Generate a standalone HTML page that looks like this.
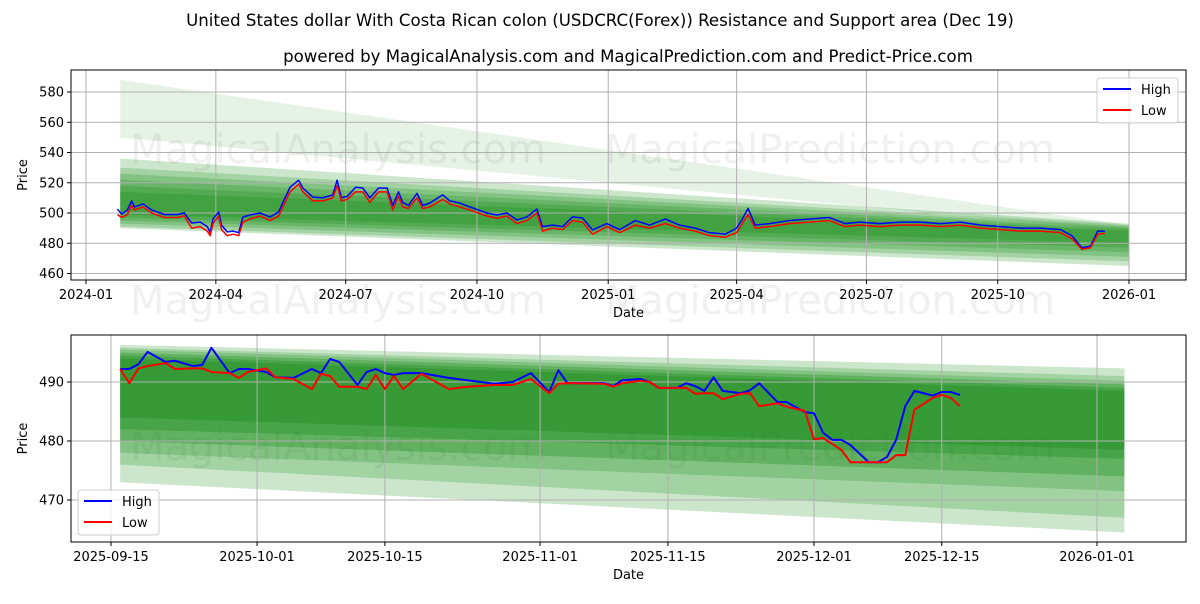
<!DOCTYPE html>
<html><head><meta charset="utf-8"><style>
body{margin:0;background:#fff;font-family:"DejaVu Sans","Liberation Sans",sans-serif}
svg text{font-family:"DejaVu Sans","Liberation Sans",sans-serif}
</style></head><body>
<svg id="fig" width="1200" height="600" xmlns="http://www.w3.org/2000/svg">
<text x="600" y="26" font-size="16.6" text-anchor="middle">United States dollar With Costa Rican colon (USDCRC(Forex)) Resistance and Support area (Dec 19)</text>
<text x="628" y="62" font-size="16.6" text-anchor="middle">powered by MagicalAnalysis.com and MagicalPrediction.com and Predict-Price.com</text>
<g id="top"></g>
<g id="bot"></g>
</svg>
<script>
// ---- top chart data (days since 2024-01-01) ----
const topDays=[22,25,29,32,34,40,46,55,64,69,74,80,85,87,89,93,95,99,103,107,110,115,122,129,135,138,143,149,152,159,166,173,176,179,183,189,194,199,205,211,215,219,222,226,232,236,241,250,255,262,269,281,288,295,302,309,316,320,327,334,341,348,355,365,374,385,395,406,416,427,437,448,456,460,464,469,479,493,507,521,532,542,556,571,585,599,613,627,641,655,669,683,691,698,704,709,714];
const topHigh=[502.6,499.3,502,508,504,506,502,499,499,500,493.4,494,491,487,496,500.7,492,487.5,488,487,497.4,498.7,500,497.4,500.7,507,517,521.7,516.5,510.5,510,512,521.7,510,511,517,516.5,510,516.5,516.5,505,514,507,505,513,505,506.6,512,508,506.6,504,500,498.7,500,495.4,497.4,502.6,491,492,491,497.4,496.7,488.8,493,489,495,492,496,492,490,487,486,490,496,503,492,493,495,496,497,493,494,493,494,494,493,494,492,491,490,490,489,485,477,478,488,488];
const topLow=[499,497,499,505,502,504,500,497,497,498,490,491,488,485,493,498,489,485,486,485,494,496,498,495,498,504,514,519,514,508,508,510,518,508,509,514,514,507,514,514,502,511,504,503,510,503,504,509,506,504,502,498,496.5,498,493,495,500,488,490,489,495,494,486,491,487,492,490,493,490,488,485,484,487,493,499,490,491,493,494,495,491,492,491,492,492,491,492,490,489,488,488,487,483,476,477,486,486.5];
const topYTicks=[460,480,500,520,540,560,580];
const topXTickLabels=["2024-01","2024-04","2024-07","2024-10","2025-01","2025-04","2025-07","2025-10","2026-01"];
const topXTickDays=[0,91,182,274,366,456,547,639,731];
const topBands=[[588,550,492,488],[536,490,493,465],[530,491,492,468],[526,493,491,471],[522,495,490,474],[518,497,489,477],[514,499,488,480]];
const topBandAlpha=[0.1,0.2,0.2,0.2,0.2,0.2,0.2];

// ---- bottom chart data (days since 2025-09-15) ----
const botDays=[1,2,3,4,6,7,9,10,11,13,14,15,17,18,20,22,23,24,25,27,28,29,30,31,32,34,37,39,42,44,46,48,49,50,54,55,56,58,59,60,62,63,64,65,66,67,69,70,71,73,74,76,77,78,79,80,81,83,84,85,86,87,88,90,91,92,93];
const botHigh=[492.2,492.2,493,495.1,493.4,493.6,492.7,492.9,495.8,491.5,492.2,492.2,491.7,490.8,490.7,492.2,491.5,493.9,493.4,489.5,491.7,492.2,491.5,491.2,491.5,491.5,490.7,490.3,489.7,490,491.5,488.3,492,489.8,489.8,489.3,490.3,490.5,490,489,489,489.8,489.3,488.5,490.8,488.5,488.1,488.6,489.8,486.6,486.6,484.9,484.7,481.4,480.2,480.2,479.3,476.4,476.4,477.3,480.2,485.9,488.5,487.7,488.3,488.3,487.8];
const botLow=[492.2,489.8,492.3,492.7,493.2,492.2,492.3,492.3,491.7,491.5,490.7,491.7,492.3,490.8,490.5,488.8,491.4,491,489.2,489.2,488.8,491.2,488.8,491,488.8,491.4,488.8,489.2,489.5,489.5,490.5,488.1,489.7,489.8,489.7,489.2,489.8,490.2,490,489,489,489,488,488.1,488.1,487.1,488,488.1,485.9,486.4,485.8,485.1,480.3,480.5,479.5,478.5,476.4,476.4,476.4,476.4,477.6,477.6,485.3,487.3,487.8,487.3,485.9];
const botYTicks=[470,480,490];
const botXTickLabels=["2025-09-15","2025-10-01","2025-10-15","2025-11-01","2025-11-15","2025-12-01","2025-12-15","2026-01-01"];
const botXTickDays=[0,16,30,47,61,77,91,108];
const botBands=[[496.3,473,492.3,464.5],[495.8,476,491,467],[495.5,478,490.2,471.5],[495,480,489.6,474],[494.5,482,489,477],[494,484,488.5,478.5]];
const botBandAlpha=[0.2,0.2,0.2,0.25,0.25,0.25];

const NS="http://www.w3.org/2000/svg";
function mk(p,t,a){const e=document.createElementNS(NS,t);for(const k in a)e.setAttribute(k,a[k]);p.appendChild(e);return e;}

function draw(g,o){
  const X=d=>o.x0+(d-o.d0)*(o.x1-o.x0)/(o.d1-o.d0);
  const Y=v=>o.y0+(v-o.v0)*(o.y1-o.y0)/(o.v1-o.v0);
  o.wm.forEach(w=>{const t=mk(g,'text',{x:w[0],y:w[1],'font-size':40,fill:'#000','fill-opacity':0.06});t.textContent=w[2];
    });
  o.bands.forEach((b,i)=>{
    const p=mk(g,'polygon',{points:`${X(o.bs)},${Y(b[0])} ${X(o.be)},${Y(b[2])} ${X(o.be)},${Y(b[3])} ${X(o.bs)},${Y(b[1])}`,fill:'rgb(0,128,0)','fill-opacity':o.alpha[i]});
    
    
  });
  o.xt.forEach((d,i)=>{
    const x=X(d);
    const l=mk(g,'line',{x1:x,x2:x,y1:o.top,y2:o.bottom,stroke:'#b0b0b0','stroke-width':1});
    
    mk(g,'line',{x1:x,x2:x,y1:o.bottom,y2:o.bottom+4,stroke:'#000'});
    const t=mk(g,'text',{x:x,y:o.bottom+19,'font-size':13,'text-anchor':'middle'});t.textContent=o.xl[i];
    
  });
  o.yt.forEach(v=>{
    const y=Y(v);
    const l=mk(g,'line',{x1:o.left,x2:o.right,y1:y,y2:y,stroke:'#b0b0b0','stroke-width':1});
    
    mk(g,'line',{x1:o.left-4,x2:o.left,y1:y,y2:y,stroke:'#000'});
    const t=mk(g,'text',{x:o.left-7,y:y+4.5,'font-size':13,'text-anchor':'end'});t.textContent=v;
    
  });
  const pl=(days,vals,c,n)=>{const p=mk(g,'polyline',{points:days.map((d,i)=>X(d)+','+Y(vals[i])).join(' '),fill:'none',stroke:c,'stroke-width':o.sw,'stroke-linejoin':'round'});
    };
  pl(o.days,o.high,'#0000ff','high-line');
  pl(o.days,o.low,'#ff0000','low-line');
  const r=mk(g,'rect',{x:o.left,y:o.top,width:o.right-o.left,height:o.bottom-o.top,fill:'none',stroke:'#000','stroke-width':1});
  
  const xt=mk(g,'text',{x:(o.left+o.right)/2,y:o.bottom+37,'font-size':13,'text-anchor':'middle'});xt.textContent='Date';
  
  const cy=(o.top+o.bottom)/2;
  const yt=mk(g,'text',{x:27,y:cy,'font-size':13,'text-anchor':'middle',transform:`rotate(-90 27 ${cy})`});yt.textContent='Price';
  
  const lg=mk(g,'g',{});
  
  mk(lg,'rect',{x:o.lx,y:o.ly,width:81,height:45,rx:3,fill:'#fff','fill-opacity':0.8,stroke:'#ccc'});
  [['High','#0000ff'],['Low','#ff0000']].forEach((e,i)=>{
    const yy=o.ly+11+i*21;
    mk(lg,'line',{x1:o.lx+6,x2:o.lx+34,y1:yy,y2:yy,stroke:e[1],'stroke-width':2});
    const t=mk(lg,'text',{x:o.lx+44,y:yy+5,'font-size':13});t.textContent=e[0];
    
  });
}
draw(document.getElementById('top'),{x0:86,x1:1129,d0:0,d1:731,y0:213,y1:92,v0:500,v1:580,
  left:71,right:1186,top:70,bottom:280,days:topDays,high:topHigh,low:topLow,bands:topBands,alpha:topBandAlpha,bs:24,be:731,
  xt:topXTickDays,xl:topXTickLabels,yt:topYTicks,sw:1.5,lx:1097,ly:78,
  wm:[[130,163,'MagicalAnalysis.com'],[605,163,'MagicalPrediction.com'],[130,314,'MagicalAnalysis.com'],[605,314,'MagicalPrediction.com']]});
draw(document.getElementById('bot'),{x0:111,x1:1097,d0:0,d1:108,y0:382,y1:441,v0:490,v1:480,
  left:71,right:1186,top:335,bottom:542,days:botDays,high:botHigh,low:botLow,bands:botBands,alpha:botBandAlpha,bs:1,be:111,
  xt:botXTickDays,xl:botXTickLabels,yt:botYTicks,sw:2,lx:78,ly:490,
  wm:[[130,460,'MagicalAnalysis.com'],[605,460,'MagicalPrediction.com']]});
</script>
</body></html>
